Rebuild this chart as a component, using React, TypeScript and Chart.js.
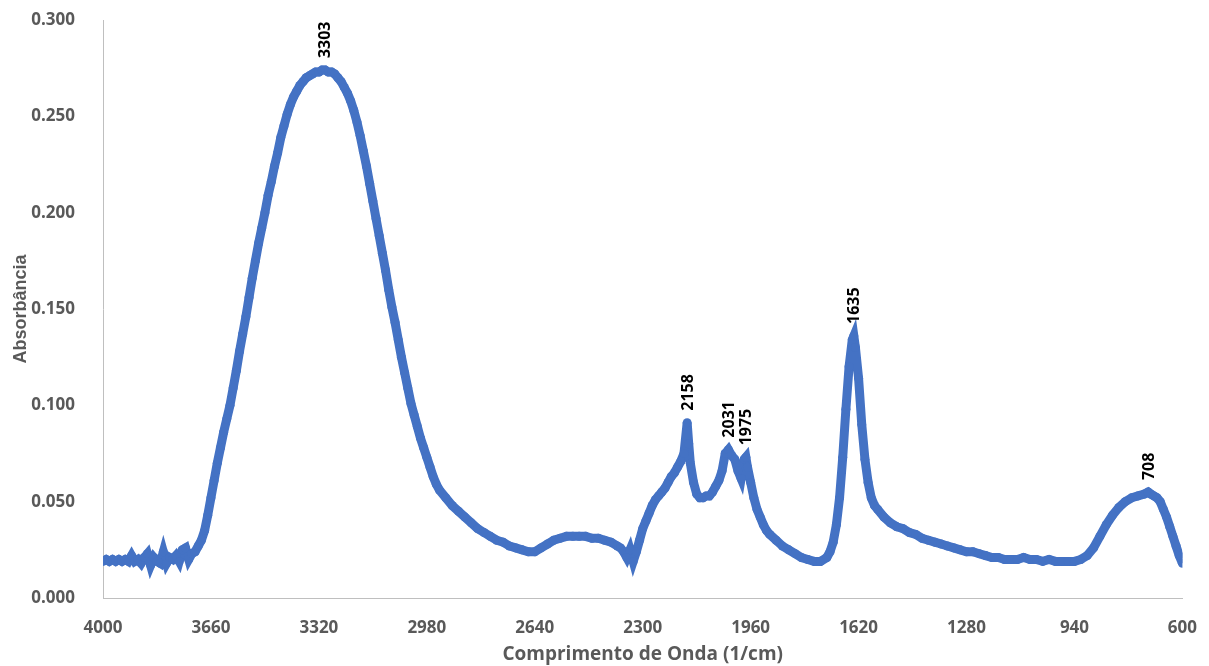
import React, { useEffect, useRef } from "react";
import { Chart, registerables } from "chart.js";

Chart.register(...registerables);

const wavenumbers: number[] = [
  4000, 3990, 3980, 3970, 3960, 3950, 3940, 3930, 3920, 3910, 3900, 3890, 3880, 3870, 3860, 3850, 3840, 3830, 3820, 3810,
  3800, 3790, 3780, 3770, 3760, 3750, 3740, 3730, 3720, 3710, 3700, 3690, 3680, 3670, 3660, 3650, 3640, 3630, 3620, 3610,
  3600, 3590, 3580, 3570, 3560, 3550, 3540, 3530, 3520, 3510, 3500, 3490, 3480, 3470, 3460, 3450, 3440, 3430, 3420, 3410,
  3400, 3390, 3380, 3370, 3360, 3350, 3340, 3330, 3320, 3310, 3300, 3290, 3280, 3270, 3260, 3250, 3240, 3230, 3220, 3210,
  3200, 3190, 3180, 3170, 3160, 3150, 3140, 3130, 3120, 3110, 3100, 3090, 3080, 3070, 3060, 3050, 3040, 3030, 3020, 3010,
  3000, 2990, 2980, 2970, 2960, 2950, 2940, 2920, 2900, 2880, 2860, 2840, 2820, 2800, 2780, 2760, 2740, 2720, 2700, 2680,
  2660, 2640, 2620, 2600, 2580, 2560, 2540, 2520, 2500, 2480, 2460, 2440, 2420, 2400, 2380, 2370, 2360, 2350, 2340, 2330,
  2320, 2310, 2300, 2290, 2280, 2270, 2260, 2250, 2240, 2230, 2220, 2210, 2200, 2190, 2180, 2170, 2160, 2155, 2150, 2140,
  2130, 2120, 2110, 2100, 2090, 2080, 2070, 2060, 2050, 2040, 2030, 2020, 2010, 2000, 1990, 1980, 1975, 1970, 1960, 1950,
  1940, 1930, 1920, 1910, 1900, 1880, 1860, 1840, 1820, 1800, 1780, 1760, 1740, 1720, 1710, 1700, 1690, 1680, 1670, 1660,
  1650, 1640, 1635, 1630, 1620, 1610, 1600, 1590, 1580, 1570, 1560, 1540, 1520, 1500, 1480, 1460, 1440, 1420, 1400, 1380,
  1360, 1340, 1320, 1300, 1280, 1260, 1240, 1220, 1200, 1180, 1160, 1140, 1120, 1100, 1080, 1060, 1040, 1020, 1000, 980,
  960, 940, 920, 900, 880, 860, 840, 820, 800, 780, 760, 740, 720, 708, 700, 690, 680, 670, 660, 650,
  640, 630, 620, 610, 600,
];

const absorbance: number[] = [
  0.019, 0.020, 0.019, 0.020, 0.019, 0.020, 0.019, 0.020, 0.019, 0.022, 0.019, 0.020, 0.018, 0.021, 0.023, 0.017, 0.021, 0.019, 0.018, 0.024,
  0.018, 0.021, 0.020, 0.022, 0.019, 0.025, 0.026, 0.020, 0.023, 0.024, 0.027, 0.030, 0.035, 0.043, 0.052, 0.061, 0.070, 0.078, 0.086, 0.093,
  0.100, 0.109, 0.118, 0.128, 0.137, 0.146, 0.156, 0.166, 0.175, 0.184, 0.192, 0.200, 0.209, 0.216, 0.224, 0.231, 0.239, 0.245, 0.251, 0.256,
  0.260, 0.263, 0.266, 0.268, 0.270, 0.271, 0.272, 0.273, 0.273, 0.274, 0.274, 0.273, 0.273, 0.272, 0.270, 0.268, 0.265, 0.262, 0.258, 0.253,
  0.247, 0.240, 0.232, 0.224, 0.215, 0.206, 0.197, 0.188, 0.179, 0.170, 0.160, 0.151, 0.143, 0.134, 0.125, 0.117, 0.109, 0.101, 0.095, 0.089,
  0.083, 0.078, 0.073, 0.068, 0.063, 0.059, 0.056, 0.052, 0.048, 0.045, 0.042, 0.039, 0.036, 0.034, 0.032, 0.030, 0.029, 0.027, 0.026, 0.025,
  0.024, 0.024, 0.026, 0.028, 0.030, 0.031, 0.032, 0.032, 0.032, 0.032, 0.031, 0.031, 0.030, 0.029, 0.027, 0.026, 0.024, 0.021, 0.025, 0.019,
  0.024, 0.030, 0.036, 0.040, 0.044, 0.048, 0.051, 0.053, 0.055, 0.057, 0.060, 0.063, 0.065, 0.068, 0.071, 0.075, 0.091, 0.080, 0.070, 0.060,
  0.054, 0.052, 0.052, 0.053, 0.053, 0.055, 0.058, 0.061, 0.066, 0.075, 0.077, 0.074, 0.072, 0.066, 0.062, 0.072, 0.073, 0.068, 0.060, 0.052,
  0.046, 0.042, 0.038, 0.035, 0.033, 0.030, 0.027, 0.025, 0.023, 0.021, 0.020, 0.019, 0.019, 0.021, 0.024, 0.029, 0.038, 0.052, 0.073, 0.098,
  0.120, 0.134, 0.136, 0.130, 0.114, 0.090, 0.072, 0.060, 0.052, 0.048, 0.046, 0.042, 0.039, 0.037, 0.036, 0.034, 0.033, 0.031, 0.030, 0.029,
  0.028, 0.027, 0.026, 0.025, 0.024, 0.024, 0.023, 0.022, 0.021, 0.021, 0.020, 0.020, 0.020, 0.021, 0.020, 0.020, 0.019, 0.020, 0.019, 0.019,
  0.019, 0.019, 0.020, 0.022, 0.026, 0.032, 0.038, 0.043, 0.047, 0.050, 0.052, 0.053, 0.054, 0.055, 0.054, 0.053, 0.052, 0.050, 0.046, 0.042,
  0.037, 0.032, 0.027, 0.022, 0.018,
];

const peakLabels: string[] = ["3303", "2158", "2031", "1975", "1635", "708"];
const peakX: number[] = [3303, 2158, 2031, 1975, 1635, 708];
const peakY: number[] = [0.274, 0.091, 0.077, 0.073, 0.136, 0.055];

const yTitle = "Absorbância";
const xTitle = "Comprimento de Onda (1/cm)";

const FONT = "'Open Sans', 'Liberation Sans', sans-serif";
const GRAY = "#595959";

const peakLabelPlugin = {
  id: "peakLabels",
  afterDatasetsDraw(chart: any) {
    const { ctx, scales } = chart;
    const xs = scales.x;
    const ys = scales.y;
    ctx.save();
    ctx.fillStyle = "#000000";
    ctx.font = `bold 16px ${FONT}`;
    ctx.textAlign = "left";
    ctx.textBaseline = "middle";
    peakLabels.forEach((lbl, i) => {
      const px = xs.getPixelForValue(peakX[i]);
      const py = ys.getPixelForValue(peakY[i]);
      ctx.save();
      ctx.translate(px + 1, py - 12);
      ctx.rotate(-Math.PI / 2);
      ctx.fillText(lbl, 0, 0);
      ctx.restore();
    });
    ctx.restore();
  },
};

export default function App() {
  const canvasRef = useRef<HTMLCanvasElement | null>(null);

  useEffect(() => {
    document.body.style.margin = "0";
    const canvas = canvasRef.current;
    if (!canvas) return;
    const data = wavenumbers.map((w, i) => ({ x: w, y: absorbance[i] }));
    const chart = new Chart(canvas, {
      type: "line",
      data: {
        datasets: [
          {
            data,
            borderColor: "#4472C4",
            backgroundColor: "#4472C4",
            borderWidth: 9,
            pointRadius: 4.5,
            pointBorderWidth: 0,
            pointBackgroundColor: "#4472C4",
            tension: 0,
            fill: false,
          },
        ],
      },
      options: {
        animation: false,
        responsive: false,
        maintainAspectRatio: false,
        layout: { padding: { left: 0, right: 26, top: 0, bottom: 0 } },
        plugins: {
          legend: { display: false },
          tooltip: { enabled: false },
        },
        scales: {
          x: {
            type: "linear",
            reverse: true,
            min: 600,
            max: 4000,
            grid: { display: false },
            border: { display: true, color: "#bfbfbf", width: 1 },
            ticks: {
              stepSize: 340,
              color: GRAY,
              font: { family: FONT, size: 17, weight: "bold" },
              padding: 12,
              maxRotation: 0,
              autoSkip: false,
              callback: (v: any) => String(v),
            },
            title: {
              display: true,
              text: xTitle,
              color: GRAY,
              font: { family: FONT, size: 19, weight: "bold" },
              padding: { top: 2, bottom: 0 },
            },
            afterFit: (scale: any) => {
              scale.height = 68;
            },
          },
          y: {
            type: "linear",
            min: 0,
            max: 0.3,
            grid: { display: false },
            border: { display: true, color: "#bfbfbf", width: 1 },
            ticks: {
              stepSize: 0.05,
              color: GRAY,
              font: { family: FONT, size: 17, weight: "bold" },
              padding: 20,
              callback: (v: any) => Number(v).toFixed(3),
            },
            title: {
              display: true,
              text: yTitle,
              color: GRAY,
              font: { family: "'Liberation Sans', Arial, sans-serif", size: 18, weight: "bold" },
              padding: { top: 10, bottom: 0 },
            },
            afterFit: (scale: any) => {
              scale.width = 103;
              scale.paddingTop = 20;
              scale.paddingBottom = 10;
            },
          },
        },
      },
      plugins: [peakLabelPlugin],
    });
    return () => chart.destroy();
  }, []);

  return (
    <div style={{ width: 1209, height: 666 }}>
      <canvas ref={canvasRef} width={1209} height={666} style={{ display: "block" }} />
    </div>
  );
}
